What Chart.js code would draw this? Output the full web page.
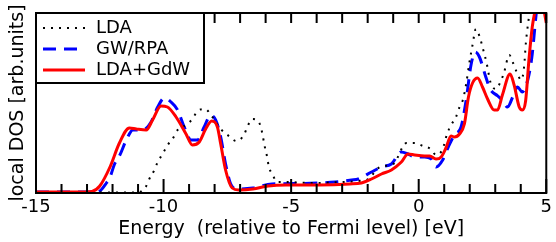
<!DOCTYPE html>
<html>
<head>
<meta charset="utf-8">
<script src="https://cdn.jsdelivr.net/npm/chart.js@4.4.1/dist/chart.umd.min.js"></script>
<style>
  html, body { margin: 0; padding: 0; background: #fff; }
  canvas { display: block; }
</style>
</head>
<body>
<canvas id="dosChart" width="556" height="242"></canvas>
<script>
// energies in eV, DOS in arbitrary units (plot top = 180)
const ldaE   = [-15, -11.0, -10.8, -10.68, -10.56, -10.36, -10.23, -10.04, -9.84, -9.65, -9.45, -9.12, -8.87, -8.67, -8.37, -8.09, -7.76, -7.44, -7.15, -6.85, -6.72, -6.53, -6.29, -6.16, -6.03, -5.94, -5.88, -5.72, -5.55, -5.23, -4.19, -3.0, -2.37, -1.98, -1.52, -1.0, -0.48, -0.16, 0.17, 0.47, 0.68, 0.94, 1.11, 1.27, 1.46, 1.6, 1.73, 1.86, 1.99, 2.11, 2.24, 2.38, 2.5, 2.67, 2.81, 3.02, 3.22, 3.35, 3.55, 3.7, 3.84, 4.02, 4.13, 4.2, 4.3, 4.45, 5];
const ldaDos = [0.5, 0.5, 3, 7, 14, 23, 31, 39, 48, 54, 63, 68, 74, 82, 84, 76, 64, 57, 52, 58, 66, 74, 72, 63, 46, 36, 27, 18, 11, 11, 10, 11, 12, 14, 26, 29, 50, 50, 47, 44, 38, 44, 59, 68, 76, 86, 93, 109, 131, 148, 164, 157, 146, 129, 111, 104, 112, 121, 138, 130, 121, 113, 126, 150, 172, 200, 240];

const gwE   = [-15, -12.6, -12.45, -12.24, -12.11, -11.92, -11.73, -11.46, -11.2, -10.82, -10.49, -10.23, -9.97, -9.71, -9.45, -9.19, -8.93, -8.67, -8.41, -8.15, -7.96, -7.76, -7.57, -7.35, -7.1, -6.5, -5.75, -4.6, -3.93, -3.28, -2.63, -2.37, -1.85, -1.46, -1.07, -0.68, -0.42, -0.16, 0.23, 0.49, 0.68, 0.94, 1.14, 1.4, 1.66, 1.86, 2.05, 2.22, 2.38, 2.63, 2.8, 3.1, 3.3, 3.48, 3.7, 3.87, 4.06, 4.2, 4.32, 4.45, 4.58, 4.7, 5];
const gwDos = [1, 1, 3, 10, 15, 29, 37, 53, 63, 63, 71, 86, 95, 91, 83, 66, 53, 53, 66, 78, 73, 56, 29, 8, 4, 5, 9, 9.5, 10, 11, 13, 14, 21, 26, 29, 41, 39, 36, 36, 34, 26, 33, 45, 58, 66, 93, 128, 141, 136, 116, 104, 97, 92, 86, 97, 106, 101, 107, 118, 139, 173, 200, 230];

const gdwE   = [-15, -13, -12.8, -12.5, -12.1, -11.73, -11.34, -11.07, -10.68, -10.43, -10.1, -9.85, -9.51, -9.12, -8.87, -8.6, -8.35, -8.11, -7.89, -7.76, -7.57, -7.31, -7.05, -6.5, -5.9, -5.2, -3.9, -2.7, -2.25, -1.85, -1.46, -1.07, -0.68, -0.42, -0.16, 0.23, 0.43, 0.68, 0.88, 1.05, 1.27, 1.4, 1.6, 1.79, 1.95, 2.11, 2.31, 2.5, 2.7, 2.96, 3.09, 3.28, 3.58, 3.74, 3.94, 4.06, 4.19, 4.32, 4.45, 4.56, 4.7, 4.85, 5];
const gdwDos = [1, 1, 1.5, 7, 26, 50, 65, 64, 63, 73, 87, 86, 76, 59, 48, 51, 64, 72, 66, 49, 23, 5, 3, 4, 7, 8, 8, 9, 10, 14, 19, 23, 31, 39, 38, 37, 37, 34, 36, 44, 57, 56, 59, 69, 96, 110, 115, 106, 94, 83, 83, 98, 119, 108, 86, 83, 92, 133, 166, 182, 195, 190, 170];

const seriesNames = ['LDA', 'GW/RPA', 'LDA+GdW'];
const xTickLabels = [-15, -10, -5, 0, 5];

function pts(xs, ys) {
  return xs.map((x, i) => ({x: x, y: ys[i]}));
}

const FONT = '"DejaVu Sans", sans-serif';

// inward ticks, frame and boxed legend
const framePlugin = {
  id: 'frame',
  afterDraw(chart) {
    const ctx = chart.ctx;
    const a = chart.chartArea;
    const xs = chart.scales.x;
    ctx.save();
    ctx.strokeStyle = '#000';
    ctx.lineWidth = 2;
    for (let e = -15; e <= 5; e++) {
      const px = xs.getPixelForValue(e);
      const big = xTickLabels.includes(e);
      ctx.beginPath();
      ctx.moveTo(px, a.bottom);
      ctx.lineTo(px, a.bottom - (big ? 14 : 9));
      ctx.moveTo(px, a.top);
      ctx.lineTo(px, a.top + 10);
      ctx.stroke();
    }
    ctx.strokeRect(a.left, a.top, a.right - a.left, a.bottom - a.top);

    // legend
    const bx = a.left, by = a.top, bw = 168, bh = 70;
    ctx.fillStyle = '#fff';
    ctx.fillRect(bx, by, bw, bh);
    ctx.strokeRect(bx, by, bw, bh);
    const rows = [28, 49, 70];
    ctx.font = '18px ' + FONT;
    ctx.textBaseline = 'middle';
    chart.data.datasets.forEach((ds, i) => {
      const y = rows[i];
      ctx.save();
      ctx.strokeStyle = ds.borderColor;
      ctx.lineWidth = ds.borderWidth;
      ctx.setLineDash(ds.borderDash || []);
      ctx.beginPath();
      ctx.moveTo(43, y);
      ctx.lineTo(85, y);
      ctx.stroke();
      ctx.restore();
      ctx.fillStyle = '#000';
      ctx.fillText(ds.label, 96, y);
    });
    ctx.restore();
  }
};

const config = {
  type: 'line',
  data: {
    datasets: [{
      label: seriesNames[0],
      data: pts(ldaE, ldaDos),
      borderColor: '#000',
      borderWidth: 2,
      borderDash: [2, 6],
      order: 1
    }, {
      label: seriesNames[1],
      data: pts(gwE, gwDos),
      borderColor: '#0000ff',
      borderWidth: 3,
      borderDash: [13, 8],
      order: 2
    }, {
      label: seriesNames[2],
      data: pts(gdwE, gdwDos),
      borderColor: '#ff0000',
      borderWidth: 3,
      order: 0
    }]
  },
  options: {
    responsive: false,
    animation: false,
    events: [],
    devicePixelRatio: 1,
    layout: { padding: { left: 0, right: 7, top: 13, bottom: 0 } },
    elements: {
      point: { radius: 0 },
      line: { tension: 0.4, cubicInterpolationMode: 'monotone', fill: false }
    },
    datasets: { line: { clip: 0 } },
    plugins: { legend: { display: false }, tooltip: { enabled: false } },
    scales: {
      x: {
        type: 'linear',
        min: -15,
        max: 5,
        afterFit: s => { s.height = 49; },
        grid: { display: false, drawTicks: false },
        border: { display: false },
        ticks: {
          stepSize: 1,
          padding: 4,
          maxRotation: 0,
          autoSkip: false,
          color: '#000',
          font: { family: FONT, size: 18 },
          callback: v => xTickLabels.includes(v) ? String(v) : ''
        },
        title: {
          display: true,
          text: 'Energy  (relative to Fermi level) [eV]',
          color: '#000',
          font: { family: FONT, size: 19 },
          padding: { top: 0, bottom: 2 }
        }
      },
      y: {
        min: 0,
        max: 180,
        afterFit: s => { s.width = 36; },
        grid: { display: false, drawTicks: false },
        border: { display: false },
        ticks: { display: false },
        title: {
          display: true,
          text: 'local DOS [arb.units]',
          color: '#000',
          font: { family: FONT, size: 19 },
          padding: { top: 7, bottom: 0 }
        }
      }
    }
  },
  plugins: [framePlugin]
};

const myChart = new Chart(document.getElementById('dosChart'), config);
</script>
</body>
</html>
